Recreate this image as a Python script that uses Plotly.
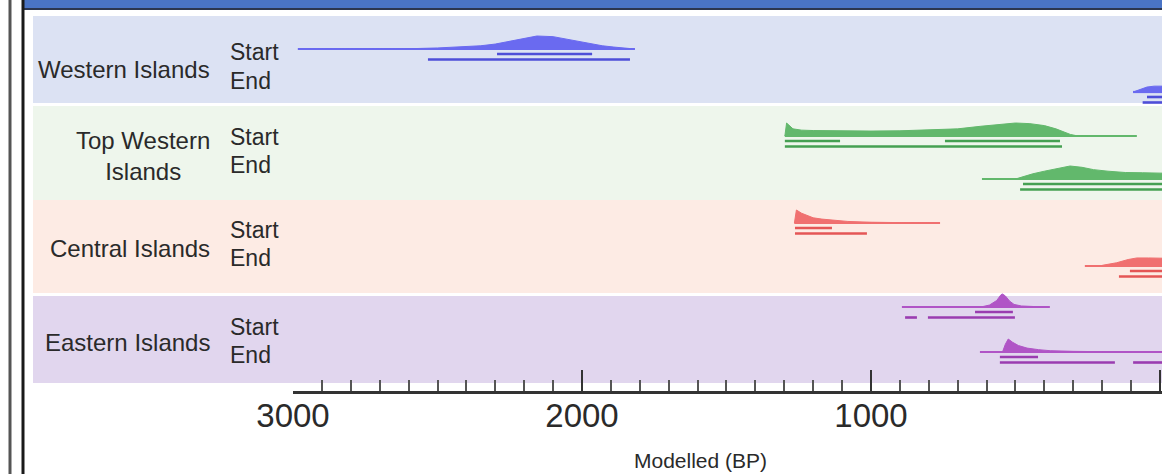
import plotly.graph_objects as go

# ---------------- data ----------------
groups = ["Western Islands", "Top Western<br>Islands", "Central Islands", "Eastern Islands"]
row_names = ["Start", "End"]
tick_vals = [3000, 2000, 1000, 0]
tick_text = ["3000", "2000", "1000", "0"]
x_title = "Modelled (BP)"

# Western Islands
w_start_bp = [2983, 2800, 2600, 2500, 2400, 2350, 2300, 2240, 2200, 2156, 2100, 2050, 2000, 1970, 1930, 1890, 1850, 1817]
w_start_p = [0.0, 0.0, 0.02, 0.08, 0.18, 0.25, 0.38, 0.65, 0.85, 1.0, 0.95, 0.75, 0.52, 0.4, 0.25, 0.15, 0.06, 0.0]
w_start_line = [2983, 1817]
w_start_r68 = [[2294, 1965]]
w_start_r95 = [[2533, 1834]]

w_end_bp = [93, 70, 45, 20, 0, -7]
w_end_p = [0.0, 0.2, 0.38, 0.45, 0.45, 0.45]
w_end_line = [93, -7]
w_end_r68 = [[45, -7]]
w_end_r95 = [[60, -7]]

# Top Western Islands
tw_start_bp = [1298, 1292, 1270, 1240, 1200, 1100, 1000, 900, 800, 700, 620, 560, 500, 450, 400, 360, 330, 310, 290, 250]
tw_start_p = [0.0, 1.0, 0.55, 0.45, 0.42, 0.38, 0.38, 0.4, 0.45, 0.55, 0.75, 0.9, 1.0, 0.95, 0.8, 0.55, 0.3, 0.12, 0.03, 0.0]
tw_start_line = [1298, 80]
tw_start_r68 = [[1298, 1107], [744, 346]]
tw_start_r95 = [[1298, 339]]

tw_end_bp = [500, 480, 440, 400, 350, 311, 270, 230, 180, 120, 60, 0, -7]
tw_end_p = [0.0, 0.15, 0.4, 0.6, 0.85, 1.0, 0.9, 0.72, 0.6, 0.5, 0.48, 0.45, 0.45]
tw_end_line = [616, -7]
tw_end_r68 = [[474, -7]]
tw_end_r95 = [[484, -7]]

# Central Islands
c_start_bp = [1265, 1258, 1240, 1220, 1200, 1170, 1130, 1080, 1000, 900, 800]
c_start_p = [0.0, 1.0, 0.75, 0.55, 0.4, 0.3, 0.2, 0.12, 0.06, 0.02, 0.0]
c_start_line = [1265, 761]
c_start_r68 = [[1263, 1135]]
c_start_r95 = [[1263, 1014]]

c_end_bp = [200, 150, 110, 80, 40, 0, -7]
c_end_p = [0.05, 0.25, 0.5, 0.62, 0.62, 0.6, 0.6]
c_end_line = [260, -7]
c_end_r68 = [[104, -7]]
c_end_r95 = [[142, -7]]

# Eastern Islands
e_start_bp = [620, 590, 565, 550, 545, 535, 520, 505, 480, 440, 400]
e_start_p = [0.0, 0.15, 0.5, 0.95, 1.0, 0.85, 0.45, 0.2, 0.08, 0.02, 0.0]
e_start_line = [893, 381]
e_start_r68 = [[640, 509]]
e_start_r95 = [[882, 841], [803, 502]]

e_end_bp = [545, 535, 525, 510, 490, 460, 420, 380, 300, 200, 100]
e_end_p = [0.0, 0.6, 1.0, 0.75, 0.5, 0.3, 0.18, 0.1, 0.05, 0.02, 0.0]
e_end_line = [623, -7]
e_end_r68 = [[554, 422]]
e_end_r95 = [[554, 156], [93, -7]]

rows = [
    (w_start_bp, w_start_p, w_start_line, w_start_r68, w_start_r95),
    (w_end_bp, w_end_p, w_end_line, w_end_r68, w_end_r95),
    (tw_start_bp, tw_start_p, tw_start_line, tw_start_r68, tw_start_r95),
    (tw_end_bp, tw_end_p, tw_end_line, tw_end_r68, tw_end_r95),
    (c_start_bp, c_start_p, c_start_line, c_start_r68, c_start_r95),
    (c_end_bp, c_end_p, c_end_line, c_end_r68, c_end_r95),
    (e_start_bp, e_start_p, e_start_line, e_start_r68, e_start_r95),
    (e_end_bp, e_end_p, e_end_line, e_end_r68, e_end_r95),
]

# ---------------- style / layout ----------------
W, H = 1162, 474
AXIS_PX = 391          # pixel row of the x axis line
row_base = [49, 92, 136, 179, 223, 266, 307, 352]   # baseline pixel rows
peak_h = 13
fill_cols = ["#6a6af0", "#62b86c", "#f07070", "#b055c6"]
bar_cols = ["#4e4ed8", "#45a052", "#e45656", "#9a3cb0"]
band_cols = ["#dce2f3", "#eef6ec", "#fdebe4", "#e1d6ee"]
band_px = [(16, 103), (106, 200), (200, 293), (296, 383)]
group_label_y = [70, 156, 248, 342]
start_end_y = [(52, 81), (137, 165), (230, 258), (327, 355)]
FONT = "Liberation Sans, Arial, sans-serif"
TXT = "#2a2a2a"


def py(px):
    return 1 - px / H


fig = go.Figure()

for i, (bp, p, line, r68, r95) in enumerate(rows):
    g = i // 2
    base = row_base[i]
    fc, bc = fill_cols[g], bar_cols[g]
    # thin baseline
    fig.add_trace(go.Scatter(x=line, y=[base, base], mode="lines",
                             line=dict(color=fc, width=2.2), hoverinfo="skip"))
    # filled distribution
    xs = list(bp) + list(bp[::-1])
    ys = [base - peak_h * v for v in p] + [base] * len(bp)
    fig.add_trace(go.Scatter(x=xs, y=ys, mode="lines", fill="toself", fillcolor=fc,
                             line=dict(color=fc, width=1), hoverinfo="skip"))
    # range bars
    for segs, off in ((r68, 5), (r95, 10.5)):
        bx, by = [], []
        for a, b in segs:
            bx += [a, b, None]
            by += [base + off, base + off, None]
        fig.add_trace(go.Scatter(x=bx, y=by, mode="lines",
                                 line=dict(color=bc, width=2.6), hoverinfo="skip"))

shapes = []
# background bands
for (y0, y1), col in zip(band_px, band_cols):
    shapes.append(dict(type="rect", xref="paper", yref="paper", x0=33 / W, x1=1,
                       y0=py(y1), y1=py(y0), fillcolor=col, line=dict(width=0), layer="below"))
# frame: header bar and left double border
shapes.append(dict(type="rect", xref="paper", yref="paper", x0=22 / W, x1=1, y0=py(8), y1=1,
                   fillcolor="#4a74c6", line=dict(width=0)))
shapes.append(dict(type="line", xref="paper", yref="paper", x0=22 / W, x1=1, y0=py(9), y1=py(9),
                   line=dict(color="#2c3650", width=2)))
shapes.append(dict(type="line", xref="paper", yref="paper", x0=10 / W, x1=10 / W, y0=0, y1=1,
                   line=dict(color="#555555", width=3)))
shapes.append(dict(type="line", xref="paper", yref="paper", x0=23 / W, x1=23 / W, y0=0, y1=1,
                   line=dict(color="#1a1a1a", width=3)))

annotations = []
for g, name in enumerate(groups):
    annotations.append(dict(text=name, xref="paper", yref="paper", x=212 / W, y=py(group_label_y[g]),
                            xanchor="right", yanchor="middle", align="center", showarrow=False,
                            font=dict(family=FONT, size=24, color=TXT)))
    for k, lab in enumerate(row_names):
        annotations.append(dict(text=lab, xref="paper", yref="paper", x=228 / W, y=py(start_end_y[g][k]),
                                xanchor="left", yanchor="middle", showarrow=False,
                                font=dict(family=FONT, size=23, color=TXT)))
annotations.append(dict(text=x_title, xref="paper", yref="paper", x=700 / W, y=py(460),
                        xanchor="center", yanchor="middle", showarrow=False,
                        font=dict(family=FONT, size=21, color=TXT)))

minor_vals = [v for v in range(0, 3001, 100) if v % 1000 != 0]

fig.update_layout(
    width=W, height=H, margin=dict(l=0, r=0, t=0, b=0, autoexpand=False),
    paper_bgcolor="white", plot_bgcolor="rgba(0,0,0,0)",
    showlegend=False, shapes=shapes, annotations=annotations,
    xaxis=dict(domain=[293 / W, 1], range=[3000, -7], showgrid=False, zeroline=False,
               automargin=False,
               showline=True, linecolor="#333333", linewidth=3,
               tickmode="array", tickvals=tick_vals, ticktext=tick_text,
               ticks="inside", ticklen=21, tickwidth=2, tickcolor="#333333",
               ticklabelstandoff=-7,
               tickfont=dict(family=FONT, size=33, color=TXT),
               minor=dict(tickmode="array", tickvals=minor_vals, ticks="inside",
                          ticklen=11, tickwidth=1.5, tickcolor="#555555")),
    yaxis=dict(domain=[1 - AXIS_PX / H, 1], range=[AXIS_PX, 0], visible=False,
               automargin=False, showgrid=False, zeroline=False),
)

fig.write_html("out.html", config={"displayModeBar": False},
               post_script="document.body.style.margin='0';document.body.style.overflow='hidden';")
